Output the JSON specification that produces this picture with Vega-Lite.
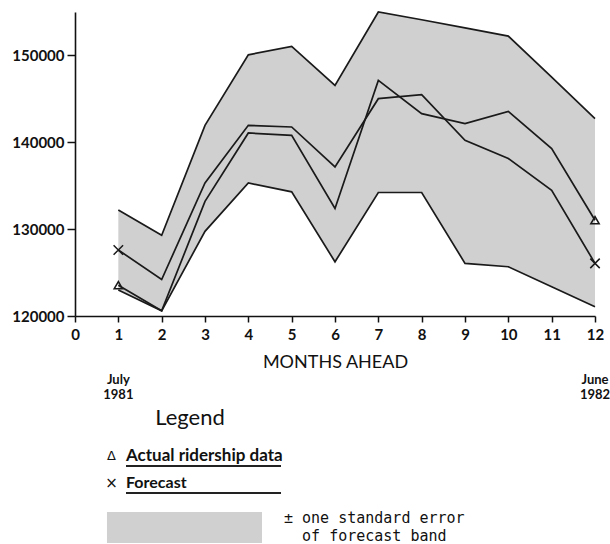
{
  "$schema": "https://vega.github.io/schema/vega-lite/v6.json",
  "autosize": {"type": "none"},
  "width": 520,
  "height": 304,
  "padding": {"left": 75, "top": 12, "right": 15, "bottom": 228},
  "background": "white",
  "config": {"view": {"stroke": null}, "font": "Lato"},
  "datasets": {
    "ridership": [
      {"month": 1, "upper": 132200, "lower": 123000, "forecast": 127600, "actual": 123550},
      {"month": 2, "upper": 129300, "lower": 120600, "forecast": 124200, "actual": 120600},
      {"month": 3, "upper": 141950, "lower": 129750, "forecast": 135320, "actual": 133200},
      {"month": 4, "upper": 150070, "lower": 135320, "forecast": 141950, "actual": 141070},
      {"month": 5, "upper": 151030, "lower": 134290, "forecast": 141760, "actual": 140800},
      {"month": 6, "upper": 146550, "lower": 126240, "forecast": 137160, "actual": 132380},
      {"month": 7, "upper": 155000, "lower": 134220, "forecast": 145020, "actual": 147130},
      {"month": 8, "upper": 154110, "lower": 134220, "forecast": 145480, "actual": 143300},
      {"month": 9, "upper": 153170, "lower": 126060, "forecast": 140230, "actual": 142150},
      {"month": 10, "upper": 152220, "lower": 125670, "forecast": 138130, "actual": 143560},
      {"month": 11, "upper": 147510, "lower": 123370, "forecast": 134480, "actual": 139280},
      {"month": 12, "upper": 142720, "lower": 121070, "forecast": 126060, "actual": 131030}
    ],
    "legend": [
      {"part": "dates", "month": 1, "label": "July\n1981"},
      {"part": "dates", "month": 12, "label": "June\n1982"},
      {"part": "title", "label": "Legend"},
      {"part": "actual", "symbol": "Δ", "label": "Actual ridership data"},
      {"part": "forecast", "symbol": "×", "label": "Forecast"},
      {"part": "band", "label": "± one standard error", "label2": "of forecast band"}
    ]
  },
  "layer": [
    {
      "data": {"name": "ridership"},
      "layer": [
        {
          "mark": {"type": "area", "color": "#d0d0d0", "opacity": 1},
          "encoding": {
            "x": {
              "field": "month", "type": "quantitative", "title": "MONTHS AHEAD",
              "scale": {"domain": [0, 12], "nice": false, "zero": false},
              "axis": {
                "values": [0, 1, 2, 3, 4, 5, 6, 7, 8, 9, 10, 11, 12],
                "labelFlush": false, "grid": false,
                "labelFont": "Lato", "labelFontWeight": "bold", "labelFontSize": 15, "labelColor": "#111111",
                "labelPadding": 5, "tickSize": 6, "tickWidth": 1.5, "tickColor": "#111111",
                "domainColor": "#111111", "domainWidth": 1.6,
                "titleFont": "Lato", "titleFontWeight": "normal", "titleFontSize": 18, "titleColor": "#111111",
                "titlePadding": 11
              }
            },
            "y": {
              "field": "upper", "type": "quantitative", "title": null,
              "scale": {"domain": [120000, 155000], "nice": false, "zero": false},
              "axis": {
                "values": [120000, 130000, 140000, 150000], "format": "d", "grid": false,
                "labelFont": "Lato", "labelFontWeight": "bold", "labelFontSize": 15, "labelColor": "#111111",
                "labelPadding": 3, "tickSize": 8, "tickWidth": 1.5, "tickColor": "#111111",
                "domainColor": "#111111", "domainWidth": 1.6
              }
            },
            "y2": {"field": "lower"}
          }
        },
        {
          "transform": [{"fold": ["upper", "lower", "forecast", "actual"], "as": ["series", "value"]}],
          "mark": {"type": "line", "color": "#1a1a1a", "strokeWidth": 1.7},
          "encoding": {
            "x": {"field": "month", "type": "quantitative", "title": "MONTHS AHEAD", "scale": {"domain": [0, 12]}},
            "y": {"field": "value", "type": "quantitative", "title": null},
            "detail": {"field": "series"}
          }
        },
        {
          "transform": [{"filter": {"field": "month", "oneOf": [1, 12]}}],
          "mark": {"type": "point", "shape": "triangle-up", "filled": false, "size": 70, "color": "#1a1a1a", "strokeWidth": 1.5, "opacity": 1},
          "encoding": {
            "x": {"field": "month", "type": "quantitative", "title": "MONTHS AHEAD", "scale": {"domain": [0, 12]}},
            "y": {"field": "actual", "type": "quantitative", "title": null}
          }
        },
        {
          "transform": [{"filter": {"field": "month", "oneOf": [1, 12]}}],
          "mark": {"type": "point", "shape": "M-1,-1L1,1M-1,1L1,-1", "filled": false, "size": 90, "color": "#1a1a1a", "strokeWidth": 1.5, "opacity": 1},
          "encoding": {
            "x": {"field": "month", "type": "quantitative", "title": "MONTHS AHEAD", "scale": {"domain": [0, 12]}},
            "y": {"field": "forecast", "type": "quantitative", "title": null}
          }
        }
      ]
    },
    {
      "data": {"name": "legend"},
      "layer": [
        {
          "transform": [{"filter": {"field": "part", "equal": "dates"}}],
          "mark": {"type": "text", "align": "center", "baseline": "middle", "lineBreak": "\n", "lineHeight": 15, "font": "Lato", "fontWeight": "bold", "fontSize": 13, "color": "#111111", "yOffset": -6},
          "encoding": {
            "x": {"field": "month", "type": "quantitative", "title": "MONTHS AHEAD", "scale": {"domain": [0, 12]}},
            "y": {"field": "part", "type": "nominal", "axis": null, "scale": {"type": "band", "domain": ["dates", "title", "actual", "forecast", "band"], "range": [357, 527], "paddingInner": 0, "paddingOuter": 0}},
            "text": {"field": "label"}
          }
        },
        {
          "transform": [{"filter": {"field": "part", "equal": "title"}}],
          "mark": {"type": "text", "align": "center", "baseline": "middle", "font": "Lato", "fontWeight": "normal", "fontSize": 22, "color": "#111111", "yOffset": -2},
          "encoding": {
            "x": {"datum": 2.654, "scale": {"domain": [0, 12]}},
            "y": {"field": "part", "type": "nominal", "axis": null, "scale": {"type": "band", "domain": ["dates", "title", "actual", "forecast", "band"], "range": [357, 527], "paddingInner": 0, "paddingOuter": 0}},
            "text": {"field": "label"}
          }
        },
        {
          "transform": [{"filter": {"field": "part", "equal": "actual"}}],
          "mark": {"type": "text", "align": "center", "baseline": "middle", "font": "DejaVu Sans", "fontSize": 13, "color": "#111111", "yOffset": 1.5},
          "encoding": {
            "x": {"datum": 0.842, "scale": {"domain": [0, 12]}},
            "y": {"field": "part", "type": "nominal", "axis": null, "scale": {"type": "band", "domain": ["dates", "title", "actual", "forecast", "band"], "range": [357, 527], "paddingInner": 0, "paddingOuter": 0}},
            "text": {"field": "symbol"}
          }
        },
        {
          "transform": [{"filter": {"field": "part", "equal": "actual"}}],
          "mark": {"type": "text", "align": "left", "baseline": "middle", "font": "Lato", "fontWeight": "bold", "fontSize": 17, "color": "#111111", "yOffset": 1.5},
          "encoding": {
            "x": {"datum": 1.177, "scale": {"domain": [0, 12]}},
            "y": {"field": "part", "type": "nominal", "axis": null, "scale": {"type": "band", "domain": ["dates", "title", "actual", "forecast", "band"], "range": [357, 527], "paddingInner": 0, "paddingOuter": 0}},
            "text": {"field": "label"}
          }
        },
        {
          "transform": [{"filter": {"field": "part", "equal": "actual"}}],
          "mark": {"type": "rule", "color": "#222222", "strokeWidth": 2, "yOffset": 12},
          "encoding": {
            "x": {"datum": 1.177, "scale": {"domain": [0, 12]}},
            "x2": {"datum": 4.754},
            "y": {"field": "part", "type": "nominal", "axis": null, "scale": {"type": "band", "domain": ["dates", "title", "actual", "forecast", "band"], "range": [357, 527], "paddingInner": 0, "paddingOuter": 0}}
          }
        },
        {
          "transform": [{"filter": {"field": "part", "equal": "forecast"}}],
          "mark": {"type": "text", "align": "center", "baseline": "middle", "font": "DejaVu Sans", "fontSize": 15, "color": "#111111", "yOffset": -5.5},
          "encoding": {
            "x": {"datum": 0.842, "scale": {"domain": [0, 12]}},
            "y": {"field": "part", "type": "nominal", "axis": null, "scale": {"type": "band", "domain": ["dates", "title", "actual", "forecast", "band"], "range": [357, 527], "paddingInner": 0, "paddingOuter": 0}},
            "text": {"field": "symbol"}
          }
        },
        {
          "transform": [{"filter": {"field": "part", "equal": "forecast"}}],
          "mark": {"type": "text", "align": "left", "baseline": "middle", "font": "Lato", "fontWeight": "bold", "fontSize": 16, "color": "#111111", "yOffset": -5.5},
          "encoding": {
            "x": {"datum": 1.177, "scale": {"domain": [0, 12]}},
            "y": {"field": "part", "type": "nominal", "axis": null, "scale": {"type": "band", "domain": ["dates", "title", "actual", "forecast", "band"], "range": [357, 527], "paddingInner": 0, "paddingOuter": 0}},
            "text": {"field": "label"}
          }
        },
        {
          "transform": [{"filter": {"field": "part", "equal": "forecast"}}],
          "mark": {"type": "rule", "color": "#222222", "strokeWidth": 2, "yOffset": 5},
          "encoding": {
            "x": {"datum": 1.177, "scale": {"domain": [0, 12]}},
            "x2": {"datum": 4.754},
            "y": {"field": "part", "type": "nominal", "axis": null, "scale": {"type": "band", "domain": ["dates", "title", "actual", "forecast", "band"], "range": [357, 527], "paddingInner": 0, "paddingOuter": 0}}
          }
        },
        {
          "transform": [{"filter": {"field": "part", "equal": "band"}}],
          "mark": {"type": "bar", "color": "#d0d0d0", "height": 31, "yOffset": 5.5},
          "encoding": {
            "x": {"datum": 0.738, "scale": {"domain": [0, 12]}},
            "x2": {"datum": 4.315},
            "y": {"field": "part", "type": "nominal", "axis": null, "scale": {"type": "band", "domain": ["dates", "title", "actual", "forecast", "band"], "range": [357, 527], "paddingInner": 0, "paddingOuter": 0}}
          }
        },
        {
          "transform": [{"filter": {"field": "part", "equal": "band"}}],
          "mark": {"type": "text", "align": "left", "baseline": "middle", "font": "DejaVu Sans Mono", "fontSize": 15, "color": "#111111", "yOffset": -4.5},
          "encoding": {
            "x": {"datum": 4.823, "scale": {"domain": [0, 12]}},
            "y": {"field": "part", "type": "nominal", "axis": null, "scale": {"type": "band", "domain": ["dates", "title", "actual", "forecast", "band"], "range": [357, 527], "paddingInner": 0, "paddingOuter": 0}},
            "text": {"field": "label"}
          }
        },
        {
          "transform": [{"filter": {"field": "part", "equal": "band"}}],
          "mark": {"type": "text", "align": "left", "baseline": "middle", "font": "DejaVu Sans Mono", "fontSize": 15, "color": "#111111", "yOffset": 14},
          "encoding": {
            "x": {"datum": 5.24, "scale": {"domain": [0, 12]}},
            "y": {"field": "part", "type": "nominal", "axis": null, "scale": {"type": "band", "domain": ["dates", "title", "actual", "forecast", "band"], "range": [357, 527], "paddingInner": 0, "paddingOuter": 0}},
            "text": {"field": "label2"}
          }
        }
      ]
    }
  ],
  "resolve": {"scale": {"y": "independent"}, "axis": {"y": "independent"}}
}
